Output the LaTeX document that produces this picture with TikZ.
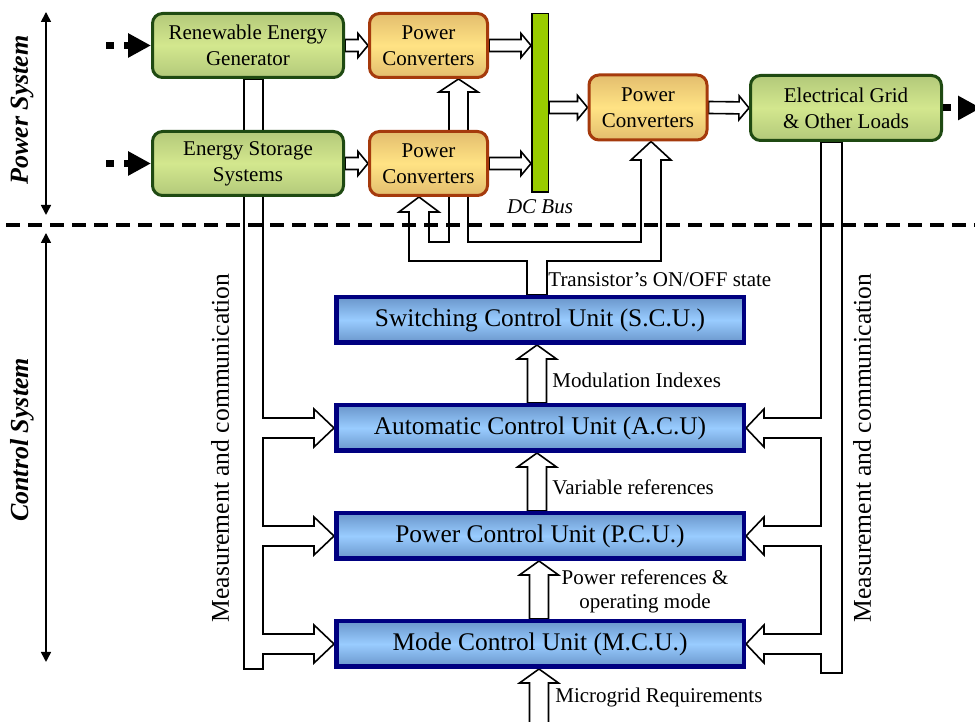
\documentclass[tikz,border=0pt]{standalone}
\usepackage{fontspec}
\setmainfont{Liberation Serif}
\usetikzlibrary{positioning, calc, arrows.meta}
\pgfdeclarelayer{background}
\pgfsetlayers{background,main}

\definecolor{gtop}{HTML}{B3C97A}
\definecolor{gmid}{HTML}{D3E78E}
\definecolor{gline}{HTML}{1F4A12}
\definecolor{otop}{HTML}{E3BD6E}
\definecolor{omid}{HTML}{FFE384}
\definecolor{oline}{HTML}{A53A0C}
\definecolor{btop}{HTML}{6A96CB}
\definecolor{bmid}{HTML}{99CCFF}
\definecolor{bline}{HTML}{000080}
\definecolor{busgreen}{HTML}{99CC00}

\tikzset{
  srcbox/.style={draw=gline, line width=1.5pt, rounded corners=5pt,
    top color=gtop, bottom color=gtop, middle color=gmid,
    minimum width=95.5pt, minimum height=32pt, align=center,
    font=\fontsize{10.5}{13}\selectfont},
  convbox/.style={srcbox, draw=oline, top color=otop, bottom color=otop,
    middle color=omid, minimum width=59pt},
  unitbox/.style={draw=bline, line width=2.25pt,
    top color=btop, bottom color=btop, middle color=bmid,
    minimum width=203.75pt, minimum height=22.75pt,
    font=\fontsize{12.7}{15}\selectfont},
  hollow/.style={draw, fill=white, line width=0.8pt, line join=miter},
  lbl/.style={inner sep=1pt, align=center, font=\fontsize{10.5}{12}\selectfont},
  sidelbl/.style={rotate=90, font=\bfseries\itshape\fontsize{13}{15}\selectfont},
  measlbl/.style={rotate=90, font=\fontsize{12.8}{15}\selectfont},
  feed/.style={line width=3.5pt, dash pattern=on 4pt off 5pt,
    -{Triangle[length=11.5pt,width=11.5pt]}},
  span/.style={line width=0.8pt,
    {Triangle[length=5pt,width=5pt]}-{Triangle[length=5pt,width=5pt]}},
}

% open arrow: from, to, shaft half width, head half width, head length
\newcommand{\fatarrow}[5]{%
  \path (#1) coordinate (fa-s) (#2) coordinate (fa-e);
  \coordinate (fa-b) at ($(fa-e)!#5!(fa-s)$);
  \draw[hollow] ($(fa-s)!#3!90:(fa-e)$) -- ($(fa-b)!#3!90:(fa-e)$)
    -- ($(fa-b)!#4!90:(fa-e)$) -- (fa-e) -- ($(fa-b)!#4!-90:(fa-e)$)
    -- ($(fa-b)!#3!-90:(fa-e)$) -- ($(fa-s)!#3!-90:(fa-e)$) -- cycle;}
\newcommand{\powerarrow}[2]{\fatarrow{#1}{#2}{3pt}{6pt}{5pt}}
\newcommand{\ctrlarrow}[2]{\fatarrow{#1}{#2}{4.75pt}{9.75pt}{7pt}}

\begin{document}
\begin{tikzpicture}[x=0.5pt, y=0.5pt]
    \useasboundingbox (0,0) rectangle (975,722);

    % --- Power system ---
    \node[srcbox] (reg) at (248,676.5) {Renewable Energy\\Generator};
    \node[srcbox] (ess) at (248,558.5) {Energy Storage\\Systems};
    \node[convbox] (pcA) at (428.5,676.5) {Power\\Converters};
    \node[convbox] (pcB) at (428.5,558.5) {Power\\Converters};
    \node[draw, fill=busgreen, line width=0.75pt, inner sep=0pt,
          minimum width=8.25pt, minimum height=89.25pt] (bus) at (540,619) {};
    \node[font=\itshape\fontsize{10.5}{12}\selectfont] (buslbl) at (540,515) {DC Bus};
    \node[convbox, minimum height=32.5pt] (pcC) at (648,614.5) {Power\\Converters};
    \node[srcbox, minimum height=32.5pt] (grid) at (846,614) {Electrical Grid\\\& Other Loads};

    % --- Control system ---
    \node[unitbox] (scu) at (540,402) {Switching Control Unit (S.C.U.)};
    \node[unitbox] (acu) at (540,294) {Automatic Control Unit (A.C.U)};
    \node[unitbox] (pcu) at (540,186) {Power Control Unit (P.C.U.)};
    \node[unitbox] (mcu) at (540,78) {Mode Control Unit (M.C.U.)};

    % --- Labels ---
    \node[lbl, anchor=west] (tlbl) at (546,442) {Transistor’s ON/OFF state};
    \node[lbl, anchor=west] (mlbl) at (550,342) {Modulation Indexes};
    \node[lbl, anchor=west] (vlbl) at (550,235) {Variable references};
    \node[lbl] (plbl) at (645,130.5) {Power references \&\\operating mode};
    \node[lbl, anchor=west] (rlbl) at (553,25) {Microgrid Requirements};
    \node[measlbl] (measL) at (220,274) {Measurement and communication};
    \node[measlbl] (measR) at (862,274) {Measurement and communication};
    \node[sidelbl] (pslbl) at (22,612) {Power System};
    \node[sidelbl] (cslbl) at (22,282) {Control System};

    % --- Side spans and separator ---
    \coordinate (psTop) at (46,710);
    \coordinate (psBot) at (46,507);
    \coordinate (csTop) at (46,489);
    \coordinate (csBot) at (46,60);
    \draw[span] (psTop) -- (psBot);
    \draw[span] (csTop) -- (csBot);
    \draw[line width=2pt, dash pattern=on 7pt off 4pt] (6,497) -- (975,497);

    % --- Inputs and output ---
    \draw[feed] ($(reg.west)+(-45,0)$) -- (reg.west);
    \draw[feed] ($(ess.west)+(-45,0)$) -- (ess.west);
    \draw[feed] (grid.east) -- ++(38,0);

    \begin{pgfonlayer}{background}
    % power flow
    \powerarrow{reg.east}{pcA.west}
    \powerarrow{ess.east}{pcB.west}
    \powerarrow{pcA.east}{pcA.east -| bus.west}
    \powerarrow{pcB.east}{pcB.east -| bus.west}
    \powerarrow{pcC.west -| bus.east}{pcC.west}
    \powerarrow{pcC.east}{grid.west}

    % control chain
    \ctrlarrow{$(acu.north)+(-3,0)$}{$(scu.south)+(-3,0)$}
    \ctrlarrow{$(pcu.north)+(-3,0)$}{$(acu.south)+(-3,0)$}
    \ctrlarrow{$(mcu.north)+(-1,0)$}{$(pcu.south)+(-1,0)$}
    \ctrlarrow{$(mcu.south)+(-1,-80)$}{$(mcu.south)+(-1,0)$}

    % switching states to the converters
    \draw[hollow] ($(scu.north)+(-13,0)$) -- ++(0,34)
        -| ($(pcB.south)+(-19.5,-15)$) -- ++(-10,0)
        -- ($(pcB.south)+(-9.5,0)$) -- ++(20,-15) -- ++(-10,0)
        -- ++(0,-30) -- ++(20,0)
        -- ($(pcA.south)+(20.5,-13)$) -- ++(-10,0)
        -- ($(pcA.south)+(30,0)$) -- ++(19.5,-13) -- ++(-10,0)
        -- ++(0,-150)
        -| ($(pcC.south)+(-7,-18.5)$) -- ++(-10,0)
        -- ($(pcC.south)+(3,0)$) -- ++(20,-18.5) -- ++(-10,0)
        |- ($(scu.north)+(7,34)$) -- ($(scu.north)+(7,0)$) -- cycle;

    % measurement, left side
    \draw[hollow] (reg.south -| 244,0) -- (244,53) -- (263,53)
        |- ($(mcu.west)+(-20,-10)$) -- ++(0,-9) -- (mcu.west)
        -- ++(-20,19) -- ++(0,-9) -- ++(-51,0)
        |- ($(pcu.west)+(-20,-10)$) -- ++(0,-9) -- (pcu.west)
        -- ++(-20,19) -- ++(0,-9) -- ++(-51,0)
        |- ($(acu.west)+(-20,-10)$) -- ++(0,-9) -- (acu.west)
        -- ++(-20,19) -- ++(0,-9) -- ++(-51,0)
        -- (reg.south -| 263,0) -- cycle;

    % measurement, right side
    \draw[hollow] (grid.south -| 842,0) -- (842,49) -- (821,49)
        |- ($(mcu.east)+(18,-10)$) -- ++(0,-9) -- (mcu.east)
        -- ++(18,19) -- ++(0,-9) -- ++(57,0)
        |- ($(pcu.east)+(18,-10)$) -- ++(0,-9) -- (pcu.east)
        -- ++(18,19) -- ++(0,-9) -- ++(57,0)
        |- ($(acu.east)+(18,-10)$) -- ++(0,-9) -- (acu.east)
        -- ++(18,19) -- ++(0,-9) -- ++(57,0)
        -- (grid.south -| 821,0) -- cycle;
    \end{pgfonlayer}

\end{tikzpicture}
\end{document}
